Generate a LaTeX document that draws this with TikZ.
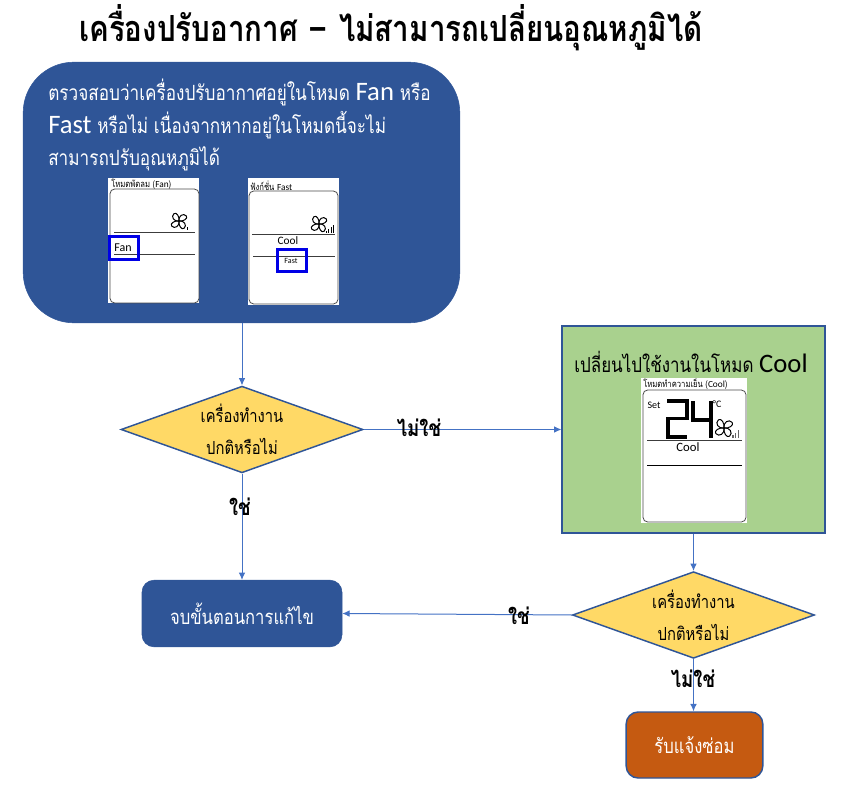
\documentclass[tikz,border=0pt]{standalone}
\usepackage{fontspec}
\usetikzlibrary{shapes.geometric,arrows.meta}
\newfontfamily\thainarrow[Script=Thai,FakeStretch=0.82]{Loma}
\newfontfamily\latin{Carlito}
\definecolor{navy}{HTML}{2F5597}
\definecolor{linkblue}{HTML}{4472C4}
\definecolor{leaf}{HTML}{A9D18E}
\definecolor{sun}{HTML}{FFD966}
\definecolor{rust}{HTML}{C55A11}
\definecolor{lcdline}{HTML}{3C3C3C}
\newcommand{\fanicon}[3]{%
  \begin{scope}[shift={(#1,#2)},scale=#3,line width=.75pt,draw=black,fill=white]
    \foreach \a in {20,110,200,290}{
      \draw[rotate=\a] (0,0) .. controls (1,-7) and (10,-9) .. (12,-3) .. controls (13,1) and (6,3) .. (0,0);
    }
  \end{scope}}
\tikzset{
  x=.75pt,y=-.75pt,
  link/.style={draw=linkblue,line width=.75pt,-{Latex[length=5.5pt,width=5pt]}},
  decision/.style={shape=diamond,draw=navy,line width=1.1pt,fill=sun,minimum width=181.5pt,minimum height=65pt,inner sep=0pt,shape aspect=2.78,align=center,font=\thainarrow\fontsize{13.5}{24}\selectfont},
  bluebox/.style={draw=navy,fill=navy,rounded corners=9pt,text=white,font=\thainarrow\fontsize{15.2}{18}\selectfont},
  lbl/.style={font=\thainarrow\bfseries\fontsize{17}{20}\selectfont,inner sep=0pt},
  lcd/.style={draw=black!70,line width=.6pt,rounded corners=3.5pt},
  lcdrule/.style={draw=lcdline,line width=.6pt},
  tiny/.style={font=\thainarrow\fontsize{7}{8}\selectfont,inner sep=0pt,anchor=west},
  seg/.style={line width=2.8pt,line cap=butt},
  hilite/.style={draw={rgb,255:red,0;green,0;blue,230},line width=2.4pt}
}
\begin{document}
\begin{tikzpicture}
\useasboundingbox (0,0) rectangle (850,792);
\node[font=\thainarrow\bfseries\fontsize{27}{30}\selectfont,inner sep=0pt] (title) at (391,28) {เครื่องปรับอากาศ {\latin\bfseries\fontsize{32}{30}\selectfont –} ไม่สามารถเปลี่ยนอุณหภูมิได้};

% main blue box
\node[draw=navy,fill=navy,rounded corners=38pt,minimum width=327.5pt,minimum height=195.5pt,inner sep=0pt] (check) at (241.5,192.5) {};
\node[anchor=north west,inner sep=0pt,align=left,text=white,font=\thainarrow\fontsize{15.7}{24.4}\selectfont] (checktext) at (48,79)
 {ตรวจสอบว่าเครื่องปรับอากาศอยู่ในโหมด {\latin\fontsize{20}{24}\selectfont Fan} หรือ\\
  {\latin\fontsize{20}{24}\selectfont Fast} หรือไม่ เนื่องจากหากอยู่ในโหมดนี้จะไม่\\
  สามารถปรับอุณหภูมิได้};

% panel Fan
\fill[white] (108,178) rectangle (199,303);
\node[tiny] (cap1) at (111,184) {โหมดพัดลม ({\latin Fan})};
\draw[lcd] (110,189) rectangle (199,303);
\draw[lcdrule] (114,232) -- (195,232);
\draw[lcdrule] (114,254) -- (195,254);
\fanicon{179}{221}{.72}
\draw[black] (187,227) -- (187,230);
\node[inner sep=0pt,font=\latin\fontsize{9}{10}\selectfont] (fan1) at (123,248) {Fan};
\draw[hilite] (109.5,236.5) rectangle (138.5,259.5);

% panel Fast
\fill[white] (248,178) rectangle (339,305);
\node[tiny] (cap2) at (250,186) {ฟังก์ชั่น {\latin Fast}};
\draw[lcd] (249,191) rectangle (338,304);
\draw[lcdrule] (252,234) -- (335,234);
\draw[lcdrule] (253,256) -- (335,256);
\fanicon{319}{224}{.72}
\foreach \i/\h in {0/2,1/4,2/6,3/8}{\draw[black,line width=.6pt] (326+\i*2.6,232.5) -- ++(0,-\h);}
\node[inner sep=0pt,font=\latin\fontsize{8.5}{10}\selectfont] (cool1) at (288,241) {Cool};
\node[inner sep=0pt,font=\latin\fontsize{6}{7}\selectfont] (fast1) at (291,261) {Fast};
\draw[hilite] (277.5,249.5) rectangle (306.5,271.5);

% green box
\node[draw=navy,fill=leaf,line width=1.1pt,minimum width=197pt,minimum height=155pt,inner sep=0pt] (switch) at (693.5,429.5) {};
\node[inner sep=0pt,font=\thainarrow\fontsize{15.5}{18}\selectfont] (switchtext) at (691,362) {เปลี่ยนไปใช้งานในโหมด {\latin\fontsize{20}{22}\selectfont Cool}};

% panel Cool
\fill[white] (641,378) rectangle (747,523);
\node[tiny] (cap3) at (643,384) {โหมดทำความเย็น ({\latin Cool})};
\draw[lcd] (643,390) rectangle (746,522);
\draw[lcdrule] (647,440) -- (742,440);
\draw[lcdrule,draw=black] (647,465) -- (742,465);
\node[inner sep=0pt,font=\latin\fontsize{7.5}{9}\selectfont] (setl) at (654,405) {Set};
\node[inner sep=0pt,font=\latin\fontsize{7.5}{9}\selectfont] (deg) at (717,404) {°C};
\draw[seg] (667,401) -- (687,401) -- (687,418.5) -- (668,418.5) -- (668,437) -- (687,437);
\draw[seg] (693,401) -- (693,420) -- (711,420);
\draw[seg] (711,401) -- (711,438);
\fanicon{724}{428}{.8}
\foreach \i/\h in {0/3,1/5,2/8}{\draw[black!60,line width=.9pt] (733+\i*2.8,438) -- ++(0,-\h);}
\node[inner sep=0pt,font=\latin\fontsize{9.5}{11}\selectfont] (cool2) at (688,447) {Cool};

% decisions and terminals
\node[decision] (dec1) at (242,429.5) {เครื่องทำงาน\\ปกติหรือไม่};
\node[decision] (dec2) at (693.5,615) {เครื่องทำงาน\\ปกติหรือไม่};
\node[bluebox,minimum width=150pt,minimum height=50pt,inner sep=0pt] (finish) at (242,613.5) {จบขั้นตอนการแก้ไข};
\node[draw=navy,fill=rust,rounded corners=9pt,text=white,line width=1.1pt,font=\thainarrow\fontsize{15.2}{18}\selectfont,minimum width=102.5pt,minimum height=49.5pt,inner sep=0pt] (repair) at (694.5,745) {รับแจ้งซ่อม};

% connectors
\draw[link] (check.south -| dec1.north) -- (dec1.north);
\draw[link] (dec1.east) -- (switch.west);
\draw[link] (dec1.south) -- (finish.north);
\draw[link] (switch.south) -- (dec2.north);
\draw[link] (dec2.west) -- (finish.east);
\draw[link] (dec2.south) -- (repair.north -| dec2.south);

% labels
\node[lbl] (no1) at (419,428) {ไม่ใช่};
\node[lbl] (yes1) at (240,507) {ใช่};
\node[lbl] (yes2) at (519,616) {ใช่};
\node[lbl] (no2) at (693,679) {ไม่ใช่};
\end{tikzpicture}
\end{document}
